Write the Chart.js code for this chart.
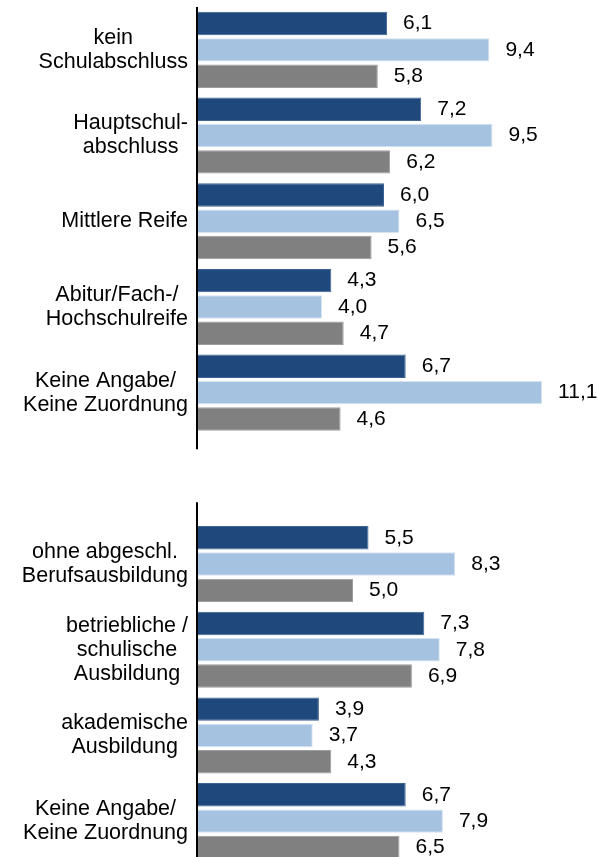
<!DOCTYPE html>
<html lang="de">
<head>
<meta charset="utf-8">
<script src="https://cdn.jsdelivr.net/npm/chart.js@4"></script>
<style>
    html, body { margin: 0; padding: 0; background: #fff; overflow: hidden; }
    #chart { display: block; }
</style>
</head>
<body>
<canvas id="chart" width="603" height="864"></canvas>
<script>
// Categories (index 5 is the empty gap between the two blocks)
const categories = [
    ['kein', 'Schulabschluss'],
    ['Hauptschul-', 'abschluss'],
    'Mittlere Reife',
    ['Abitur/Fach-/', 'Hochschulreife'],
    ['Keine Angabe/', 'Keine Zuordnung'],
    '',
    ['ohne abgeschl.', 'Berufsausbildung'],
    ['betriebliche /', 'schulische', 'Ausbildung'],
    ['akademische', 'Ausbildung'],
    ['Keine Angabe/', 'Keine Zuordnung'],
];

const seriesDark  = [6.1, 7.2, 6.0, 4.3, 6.7, null, 5.5, 7.3, 3.9, 6.7];
const seriesLight = [9.4, 9.5, 6.5, 4.0, 11.1, null, 8.3, 7.8, 3.7, 7.9];
const seriesGrey  = [5.8, 6.2, 5.6, 4.7, 4.6, null, 5.0, 6.9, 4.3, 6.5];

const FONT = '"Liberation Sans", Arial, sans-serif';

// Category labels: lines centred on each other, block right-aligned to the axis
const categoryLabels = {
    id: 'categoryLabels',
    afterDraw(chart) {
        const ctx = chart.ctx;
        const yScale = chart.scales.y;
        const right = chart.chartArea.left - 10;
        ctx.save();
        ctx.font = '21.5px ' + FONT;
        ctx.fillStyle = '#000';
        ctx.textAlign = 'center';
        ctx.textBaseline = 'middle';
        categories.forEach((lab, i) => {
            const lines = Array.isArray(lab) ? lab : [lab];
            const maxW = Math.max(...lines.map(l => ctx.measureText(l).width));
            const cx = right - maxW / 2;
            const cy = yScale.getPixelForValue(i);
            const lh = 24;
            lines.forEach((l, j) => {
                ctx.fillText(l, cx, cy - (lines.length - 1) * lh / 2 + j * lh);
            });
        });
        ctx.restore();
    }
};

// Value labels to the right of each bar, German decimal comma
const valueLabels = {
    id: 'valueLabels',
    afterDatasetsDraw(chart) {
        const ctx = chart.ctx;
        ctx.save();
        ctx.font = '21px ' + FONT;
        ctx.fillStyle = '#000';
        ctx.textAlign = 'left';
        ctx.textBaseline = 'middle';
        chart.data.datasets.forEach((ds, di) => {
            const meta = chart.getDatasetMeta(di);
            meta.data.forEach((bar, i) => {
                const v = ds.data[i];
                if (v === null) return;
                ctx.fillText(v.toFixed(1).replace('.', ','), bar.x + 16, bar.y);
            });
        });
        ctx.restore();
    }
};

// Vertical axis line with a break at the empty category
const brokenAxis = {
    id: 'brokenAxis',
    afterDatasetsDraw(chart) {
        const ctx = chart.ctx;
        const area = chart.chartArea;
        const gap = chart.scales.y.getPixelForValue(5);
        const x = area.left - 1;
        ctx.save();
        ctx.strokeStyle = '#000';
        ctx.lineWidth = 2;
        ctx.beginPath();
        ctx.moveTo(x, area.top);
        ctx.lineTo(x, gap - 29);
        ctx.moveTo(x, gap + 24);
        ctx.lineTo(x, area.bottom);
        ctx.stroke();
        ctx.restore();
    }
};

new Chart(document.getElementById('chart'), {
    type: 'bar',
    data: {
        labels: categories,
        datasets: [
            {
                label: 'Reihe 1',
                data: seriesDark,
                backgroundColor: '#1f497d',
                borderColor: '#3d6494',
                borderWidth: 1,
            },
            {
                label: 'Reihe 2',
                data: seriesLight,
                backgroundColor: '#a5c2e0',
                borderColor: '#d6e3f1',
                borderWidth: 1,
            },
            {
                label: 'Reihe 3',
                data: seriesGrey,
                backgroundColor: '#808080',
                borderColor: '#9c9c9c',
                borderWidth: 1,
            },
        ],
    },
    options: {
        indexAxis: 'y',
        responsive: false,
        animation: false,
        categoryPercentage: 0.922,
        barPercentage: 0.89,
        layout: { padding: { top: 7, right: 2, bottom: 0, left: 0 } },
        plugins: {
            legend: { display: false },
            tooltip: { enabled: false },
        },
        scales: {
            x: {
                display: false,
                min: 0,
                max: 13,
            },
            y: {
                grid: { display: false, drawTicks: false },
                border: { display: false },
                ticks: { display: false },
                afterFit(scale) { scale.width = 198; },
            },
        },
    },
    plugins: [categoryLabels, valueLabels, brokenAxis],
});
</script>
</body>
</html>
